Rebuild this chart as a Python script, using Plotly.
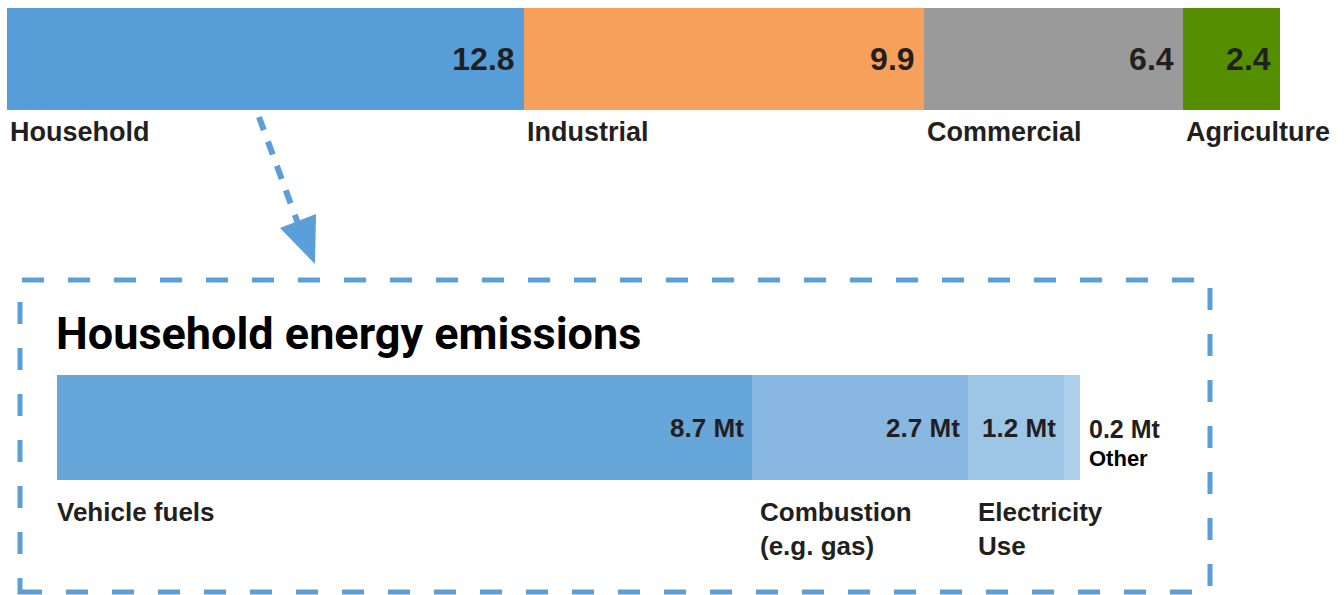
import plotly.graph_objects as go

# sector totals (top bar)
sectors = ["Household", "Industrial", "Commercial", "Agriculture"]
sector_values = [12.8, 9.9, 6.4, 2.4]
sector_colors = ["#579dd7", "#f6a05b", "#9a9a9a", "#558f00"]

# household breakdown (bottom bar)
house_labels = ["Vehicle fuels", "Combustion<br>(e.g. gas)", "Electricity<br>Use", "Other"]
house_values = [8.7, 2.7, 1.2, 0.2]
house_colors = ["#67a6d9", "#88b7e1", "#9dc5e6", "#afd0ed"]

W, H = 1344, 595
BLUE = "#5b9fd8"
INK = "#231f20"
LABEL_FONT = "Liberation Sans, Arial, sans-serif"


def px(x):
    return x / W


def py(y):
    return 1 - y / H


fig = go.Figure()

# top stacked bar
for name, v, c in zip(sectors, sector_values, sector_colors):
    fig.add_trace(go.Bar(
        x=[v], y=[0], orientation="h", width=1, name=name,
        marker=dict(color=c, line=dict(width=0)),
        text=[f"{v:.1f}\u2009"], textposition="inside", insidetextanchor="end",
        textfont=dict(family=LABEL_FONT, size=32, color=INK, weight="bold"),
        xaxis="x", yaxis="y", hoverinfo="name+x",
    ))

# bottom stacked bar
for i, (name, v, c) in enumerate(zip(house_labels, house_values, house_colors)):
    txt = f"{v:.1f} Mt\u2009" if i < len(house_values) - 1 else ""
    fig.add_trace(go.Bar(
        x=[v], y=[0], orientation="h", width=1, name=name.replace("<br>", " "),
        marker=dict(color=c, line=dict(width=0)),
        text=[txt], textposition="inside", insidetextanchor="end",
        textfont=dict(family=LABEL_FONT, size=26, color=INK, weight="bold"),
        xaxis="x2", yaxis="y2", hoverinfo="name+x",
    ))

ax = dict(visible=False, fixedrange=True)
fig.update_layout(
    width=W, height=H, margin=dict(l=0, r=0, t=0, b=0),
    paper_bgcolor="white", plot_bgcolor="rgba(0,0,0,0)",
    barmode="stack", bargap=0, showlegend=False,
    xaxis=dict(ax, domain=[px(7), px(1280)], range=[0, sum(sector_values)]),
    yaxis=dict(ax, domain=[py(110), py(8)], range=[-0.5, 0.5]),
    xaxis2=dict(ax, domain=[px(57), px(1080)], range=[0, sum(house_values)]),
    yaxis2=dict(ax, domain=[py(480), py(375)], range=[-0.5, 0.5]),
)

# category labels under the top bar
start = 0
for name, v in zip(sectors, sector_values):
    fig.add_annotation(x=start, xref="x", y=py(132), yref="paper", text=f"<b>{name}</b>",
                       showarrow=False, xanchor="left", yanchor="middle", xshift=1,
                       font=dict(family=LABEL_FONT, size=27, color=INK))
    start += v

# labels under the bottom bar
shifts = [-2, 6, 8]
start = 0
for name, v, s in zip(house_labels[:-1], house_values[:-1], shifts):
    fig.add_annotation(x=start, xref="x2", y=py(495), yref="paper", text=f"<b>{name}</b>",
                       showarrow=False, xanchor="left", yanchor="top", xshift=s, align="left",
                       font=dict(family=LABEL_FONT, size=26, color=INK))
    start += v

# small "Other" slice labelled outside the bar
total_h = sum(house_values)
fig.add_annotation(x=total_h, xref="x2", y=py(429), yref="paper",
                   text=f"<b>{house_values[-1]:.1f} Mt</b>", showarrow=False,
                   xanchor="left", yanchor="middle", xshift=7,
                   font=dict(family=LABEL_FONT, size=25, color=INK))
fig.add_annotation(x=total_h, xref="x2", y=py(458), yref="paper",
                   text=f"<b>{house_labels[-1]}</b>", showarrow=False,
                   xanchor="left", yanchor="middle", xshift=7,
                   font=dict(family="Liberation Sans Narrow, Arial Narrow, Liberation Sans, sans-serif",
                             size=22, color="black"))

# title inside the dashed box
fig.add_annotation(x=px(54), xref="paper", y=py(333), yref="paper",
                   text="<b>Household energy emissions</b>", showarrow=False,
                   xanchor="left", yanchor="middle",
                   font=dict(family="Roboto, sans-serif", size=45, color="black"))

# dashed box
fig.add_shape(type="rect", xref="paper", yref="paper",
              x0=px(20), x1=px(1210), y0=py(592), y1=py(280),
              line=dict(color=BLUE, width=5, dash="22px,24px"), fillcolor="rgba(0,0,0,0)")

# dashed arrow from Household to the box
fig.add_shape(type="line", xref="paper", yref="paper",
              x0=px(259), y0=py(117), x1=px(300), y1=py(229),
              line=dict(color=BLUE, width=6, dash="14px,12px"))
fig.add_shape(type="path", xref="paper", yref="paper",
              path=f"M {px(280)},{py(228)} L {px(316)},{py(214)} L {px(315)},{py(264)} Z",
              line=dict(width=0), fillcolor=BLUE)

fig.write_html("out.html", post_script="document.body.style.margin='0';",
               config={"displayModeBar": False})
